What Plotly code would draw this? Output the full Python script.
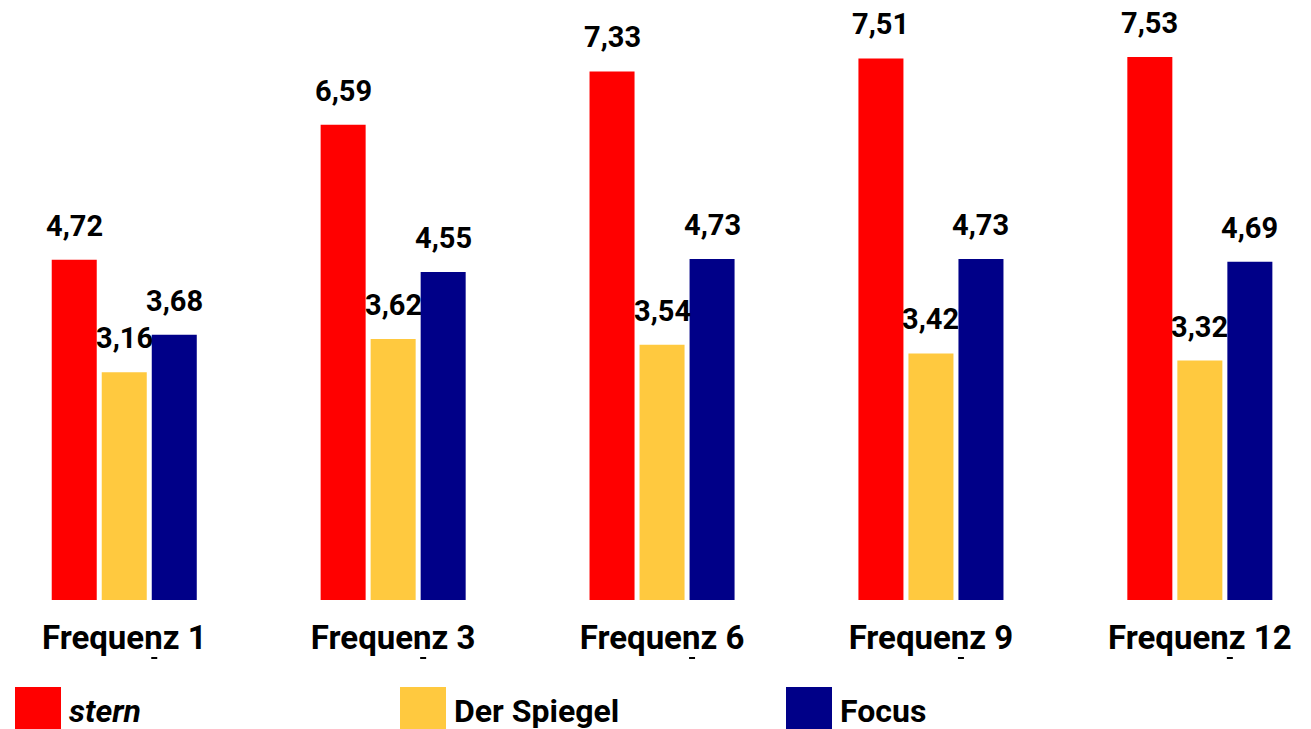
import plotly.graph_objects as go

categories = ["Frequenz 1", "Frequenz 3", "Frequenz 6", "Frequenz 9", "Frequenz 12"]
series_names = ["stern", "Der Spiegel", "Focus"]
stern = [4.72, 6.59, 7.33, 7.51, 7.53]
spiegel = [3.16, 3.62, 3.54, 3.42, 3.32]
focus = [3.68, 4.55, 4.73, 4.73, 4.69]
colors = ["#FF0000", "#FFC93F", "#000088"]

series = [stern, spiegel, focus]
FONT = "Roboto, Open Sans, sans-serif"

# page body has an 8px margin: figure coords = picture coords - 8
W, H = 1303, 721
px_per_cat = 268.9
x0 = -116.25 / px_per_cat
x1 = x0 + W / px_per_cat
plot_h = 592
ymax = plot_h / (543 / 7.53)

fig = go.Figure()
for name, vals, col in zip(series_names, series, colors):
    fig.add_trace(go.Bar(x=categories, y=vals, name=name, marker=dict(color=col, line=dict(width=0)),
                         showlegend=False, hoverinfo="skip"))

bargap = 0.442
bargroupgap = 0.1
slot_px = (1 - bargap) / 3 * px_per_cat

annotations = []
for si, vals in enumerate(series):
    for ci, v in enumerate(vals):
        annotations.append(dict(
            x=categories[ci], y=v, xref="x", yref="y",
            xshift=(si - 1) * slot_px, yshift=15, yanchor="bottom", xanchor="center",
            text=f"{v:.2f}".replace(".", ","), showarrow=False,
            font=dict(family=FONT, size=29, color="black", weight="bold")))

shapes = []
# small dashes under category labels
for ci, c in enumerate(categories):
    shapes.append(dict(type="line", xref="x", yref="paper",
                       x0=ci + 27 / px_per_cat, x1=ci + 33 / px_per_cat,
                       y0=-(650 - plot_h) / plot_h, y1=-(650 - plot_h) / plot_h,
                       line=dict(color="black", width=2), layer="above"))

# manual legend
legend_x = [7, 392, 778]
for i, name in enumerate(series_names):
    lx = legend_x[i]
    shapes.append(dict(type="rect", xref="paper", yref="paper",
                       x0=lx / W, x1=(lx + 46) / W,
                       y0=-(679 - plot_h) / plot_h, y1=-(730 - plot_h) / plot_h,
                       fillcolor=colors[i], line=dict(width=0), layer="above"))
    txt = f"<i>{name}</i>" if name == "stern" else name
    annotations.append(dict(x=(lx + 52) / W, y=-(703 - plot_h) / plot_h, xref="paper", yref="paper",
                            xanchor="left", yanchor="middle", text=txt, showarrow=False,
                            font=dict(family=FONT, size=32, color="black", weight="bold")))

fig.update_layout(
    width=W, height=H,
    margin=dict(l=0, r=0, t=0, b=H - plot_h, pad=0),
    barmode="group", bargap=bargap, bargroupgap=bargroupgap,
    plot_bgcolor="white", paper_bgcolor="white",
    xaxis=dict(range=[x0, x1], showgrid=False, zeroline=False, showline=False, ticks="",
               tickfont=dict(family=FONT, size=33, color="black", weight="bold"),
               ticklabelstandoff=15, fixedrange=True),
    yaxis=dict(range=[0, ymax], showgrid=False, zeroline=False, showline=False,
               showticklabels=False, ticks="", fixedrange=True),
    annotations=annotations, shapes=shapes, showlegend=False,
)

fig.write_html("out.html", config={"displayModeBar": False})
